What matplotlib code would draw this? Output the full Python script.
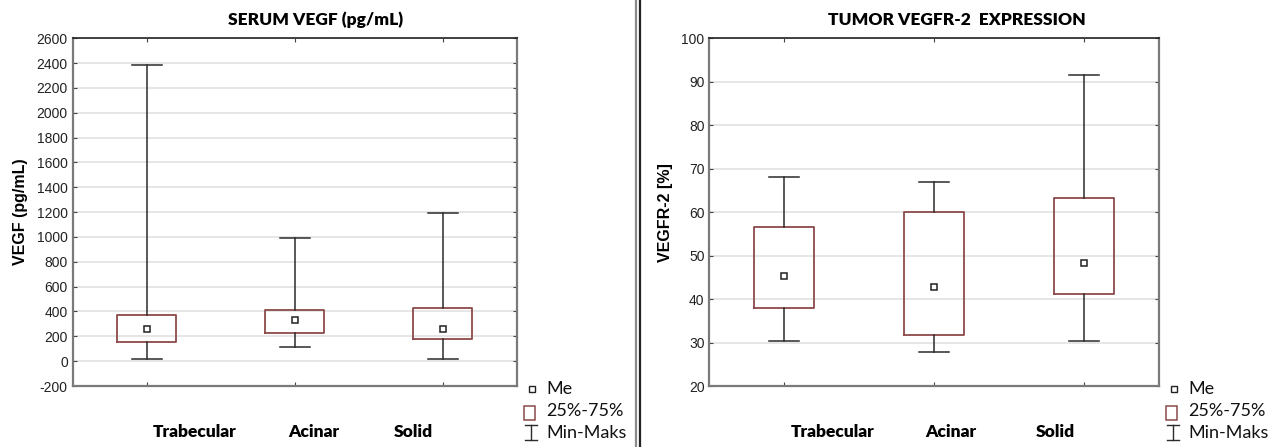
import matplotlib.pyplot as plt
from matplotlib.lines import Line2D
from matplotlib.patches import Rectangle

plt.rcParams["axes.unicode_minus"] = False

groups = ["Trabecular", "Acinar", "Solid"]

# serum VEGF (pg/mL)
vegf_min = [20, 115, 20]
vegf_q1 = [155, 225, 182]
vegf_med = [255, 330, 255]
vegf_q3 = [375, 415, 426]
vegf_max = [2385, 992, 1195]

# tumor VEGFR-2 expression (%)
vegfr_min = [30.3, 27.8, 30.3]
vegfr_q1 = [38.0, 31.7, 41.2]
vegfr_med = [45.4, 42.8, 48.2]
vegfr_q3 = [56.6, 60.0, 63.2]
vegfr_max = [68.2, 67.0, 91.5]

W, H = 1272, 447
BOX_EDGE = "#8c4a4a"
WHISK = "#2b2b2b"


def px(x, y):
    return x / W, 1 - y / H


def draw_panel(ax, mins, q1s, meds, q3s, maxs, ylim, yticks, ylabel):
    stats = []
    for lo, a, m, b, hi in zip(mins, q1s, meds, q3s, maxs):
        stats.append(dict(whislo=lo, q1=a, med=m, q3=b, whishi=hi, mean=m, fliers=[]))
    ax.bxp(
        stats,
        positions=[0, 1, 2],
        widths=0.4,
        capwidths=0.2,
        showmeans=True,
        showfliers=False,
        boxprops=dict(color=BOX_EDGE, linewidth=1.3),
        whiskerprops=dict(color=WHISK, linewidth=1.1),
        capprops=dict(color=WHISK, linewidth=1.1),
        medianprops=dict(linewidth=0),
        meanprops=dict(marker="s", markersize=5, markerfacecolor="white",
                       markeredgecolor="#222222", markeredgewidth=1.1),
        zorder=3,
    )
    ax.set_xlim(-0.5, 2.5)
    ax.set_ylim(*ylim)
    ax.set_yticks(yticks)
    ax.set_xticks([0, 1, 2])
    ax.set_xticklabels([])
    ax.grid(axis="y", color="#e2e2e2", linewidth=1.2, zorder=0)
    ax.set_axisbelow(True)
    ax.tick_params(axis="both", direction="in", length=3, color="#444444",
                   top=True, right=True, labelsize=10, labelcolor="#222222")
    for t in ax.get_yticklabels():
        t.set_fontfamily("Liberation Sans")
    for side in ["left", "right", "bottom"]:
        ax.spines[side].set_color("#7a7a7a")
        ax.spines[side].set_linewidth(1.6)
    ax.spines["top"].set_color("#222222")
    ax.spines["top"].set_linewidth(1.2)
    ax.set_ylabel(ylabel, fontsize=11.5, fontweight="bold", family="Liberation Sans",
                  labelpad=6)


def draw_legend(fig, x0):
    # median marker
    fig.add_artist(Line2D([px(x0 + 8, 0)[0]], [px(0, 389)[1]], marker="s",
                          markersize=4.5, markerfacecolor="white",
                          markeredgecolor="#222222", markeredgewidth=1,
                          transform=fig.transFigure))
    fx, fy = px(x0, 420)
    fw = 11 / W
    fh = 14 / H
    fig.add_artist(Rectangle((fx, fy), fw, fh, facecolor="white",
                             edgecolor=BOX_EDGE, linewidth=1.1,
                             transform=fig.transFigure))
    cx = px(x0 + 7, 0)[0]
    ya, yb = px(0, 425)[1], px(0, 440)[1]
    for yy in (ya, yb):
        fig.add_artist(Line2D([cx - 6 / W, cx + 6 / W], [yy, yy], color=WHISK,
                              linewidth=1, transform=fig.transFigure))
    fig.add_artist(Line2D([cx, cx], [ya, yb], color=WHISK, linewidth=1,
                          transform=fig.transFigure))
    tx = px(x0 + 22, 0)[0]
    for label, yy in zip(["Me", "25%-75%", "Min-Maks"], [389, 411, 433]):
        fig.text(tx, px(0, yy)[1], label, fontsize=13, family="Lato",
                 va="center", ha="left", color="#111111")


fig = plt.figure(figsize=(W / 100, H / 100), dpi=100)

ax1 = fig.add_axes([72.7 / W, 1 - 386 / H, (516.7 - 72.7) / W, (386 - 38.3) / H])
draw_panel(ax1, vegf_min, vegf_q1, vegf_med, vegf_q3, vegf_max,
           (-200, 2600), range(-200, 2601, 200), "VEGF (pg/mL)")

ax2 = fig.add_axes([709.3 / W, 1 - 386 / H, (1159.3 - 709.3) / W, (386 - 38.3) / H])
draw_panel(ax2, vegfr_min, vegfr_q1, vegfr_med, vegfr_q3, vegfr_max,
           (20, 100), range(20, 101, 10), "VEGFR-2 [%]")

fig.text(*px(316, 20), "SERUM VEGF (pg/mL)", fontsize=12.5, fontweight="heavy",
         family="Lato", ha="center", va="center")
fig.text(*px(957, 20), "TUMOR VEGFR-2  EXPRESSION", fontsize=12.5,
         fontweight="heavy", family="Lato", ha="center", va="center")

for name, x in zip(groups, [195, 313.5, 413.5]):
    fig.text(*px(x, 432), name, fontsize=12.5, fontweight="heavy", family="Lato",
             ha="center", va="center")
for name, x in zip(groups, [833, 951, 1055]):
    fig.text(*px(x, 432), name, fontsize=12.5, fontweight="heavy", family="Lato",
             ha="center", va="center")

draw_legend(fig, 524)
draw_legend(fig, 1166)

# panel divider
fig.add_artist(Line2D([636 / W] * 2, [0, 1], color="#8a8a8a", linewidth=1.6,
                      transform=fig.transFigure))
fig.add_artist(Line2D([639.5 / W] * 2, [0, 1], color="#222222", linewidth=1.6,
                      transform=fig.transFigure))

fig.savefig("out.png", dpi=100)
